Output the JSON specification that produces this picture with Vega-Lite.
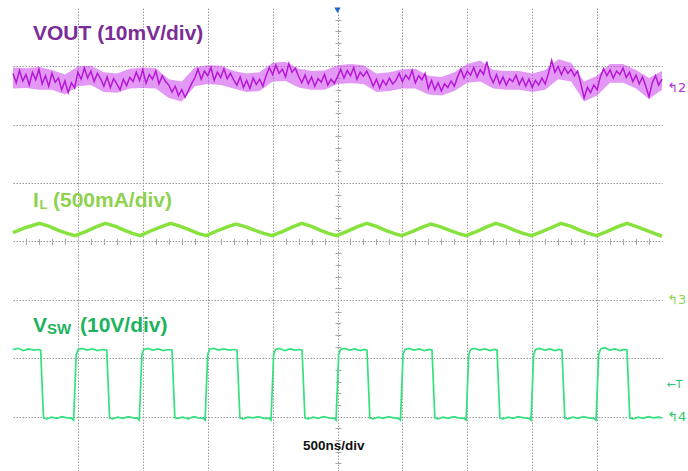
{
  "$schema": "https://vega.github.io/schema/vega-lite/v6.json",
  "width": 649,
  "height": 463,
  "autosize": {"type": "none"},
  "padding": {"left": 13, "top": 8, "right": 26, "bottom": 0},
  "background": "white",
  "config": {"view": {"stroke": null}, "text": {"font": "Liberation Sans", "fontWeight": "bold"}},
  "datasets": {
    "vout": [
      {"t":0,"v":6.88},{"t":25,"v":6.72},{"t":50,"v":6.93},{"t":75,"v":6.75},{"t":100,"v":6.86},{"t":125,"v":6.68},{"t":150,"v":6.90},{"t":175,"v":6.77},{"t":200,"v":6.95},{"t":225,"v":6.70},
      {"t":250,"v":6.84},{"t":275,"v":6.66},{"t":300,"v":6.88},{"t":325,"v":6.73},{"t":350,"v":6.80},{"t":375,"v":6.60},{"t":400,"v":6.75},{"t":425,"v":6.55},{"t":450,"v":6.72},{"t":475,"v":6.63},
      {"t":500,"v":6.90},{"t":525,"v":6.78},{"t":550,"v":6.97},{"t":575,"v":6.80},{"t":600,"v":6.92},{"t":625,"v":6.74},{"t":650,"v":6.88},{"t":675,"v":6.79},{"t":700,"v":6.66},{"t":725,"v":6.82},
      {"t":750,"v":6.64},{"t":775,"v":6.79},{"t":800,"v":6.70},{"t":825,"v":6.60},{"t":850,"v":6.78},{"t":875,"v":6.67},{"t":900,"v":6.81},{"t":925,"v":6.74},{"t":950,"v":6.90},{"t":975,"v":6.76},
      {"t":1000,"v":6.94},{"t":1025,"v":6.71},{"t":1050,"v":6.86},{"t":1075,"v":6.78},{"t":1100,"v":6.92},{"t":1125,"v":6.70},{"t":1150,"v":6.84},{"t":1175,"v":6.74},{"t":1200,"v":6.68},{"t":1225,"v":6.56},
      {"t":1250,"v":6.66},{"t":1275,"v":6.50},{"t":1300,"v":6.60},{"t":1325,"v":6.47},{"t":1350,"v":6.58},{"t":1375,"v":6.70},{"t":1400,"v":6.80},{"t":1425,"v":6.95},{"t":1450,"v":6.78},{"t":1475,"v":6.92},
      {"t":1500,"v":6.84},{"t":1525,"v":6.98},{"t":1550,"v":6.76},{"t":1575,"v":6.90},{"t":1600,"v":6.81},{"t":1625,"v":6.96},{"t":1650,"v":6.79},{"t":1675,"v":6.88},{"t":1700,"v":6.77},{"t":1725,"v":6.68},
      {"t":1750,"v":6.82},{"t":1775,"v":6.64},{"t":1800,"v":6.76},{"t":1825,"v":6.62},{"t":1850,"v":6.80},{"t":1875,"v":6.69},{"t":1900,"v":6.78},{"t":1925,"v":6.66},{"t":1950,"v":6.84},{"t":1975,"v":6.98},
      {"t":2000,"v":6.86},{"t":2025,"v":7.02},{"t":2050,"v":6.88},{"t":2075,"v":6.95},{"t":2100,"v":6.82},{"t":2125,"v":7.05},{"t":2150,"v":6.90},{"t":2175,"v":6.97},{"t":2200,"v":6.83},{"t":2225,"v":6.72},
      {"t":2250,"v":6.85},{"t":2275,"v":6.70},{"t":2300,"v":6.82},{"t":2325,"v":6.66},{"t":2350,"v":6.79},{"t":2375,"v":6.73},{"t":2400,"v":6.86},{"t":2425,"v":6.68},{"t":2450,"v":6.78},{"t":2475,"v":6.71},
      {"t":2500,"v":6.82},{"t":2525,"v":6.95},{"t":2550,"v":6.80},{"t":2575,"v":6.93},{"t":2600,"v":6.84},{"t":2625,"v":6.98},{"t":2650,"v":6.78},{"t":2675,"v":6.90},{"t":2700,"v":6.83},{"t":2725,"v":6.92},
      {"t":2750,"v":6.80},{"t":2775,"v":6.66},{"t":2800,"v":6.78},{"t":2825,"v":6.63},{"t":2850,"v":6.76},{"t":2875,"v":6.68},{"t":2900,"v":6.80},{"t":2925,"v":6.70},{"t":2950,"v":6.76},{"t":2975,"v":6.88},
      {"t":3000,"v":6.74},{"t":3025,"v":6.85},{"t":3050,"v":6.78},{"t":3075,"v":6.93},{"t":3100,"v":6.72},{"t":3125,"v":6.84},{"t":3150,"v":6.77},{"t":3175,"v":6.88},{"t":3200,"v":6.62},{"t":3225,"v":6.76},
      {"t":3250,"v":6.60},{"t":3275,"v":6.72},{"t":3300,"v":6.58},{"t":3325,"v":6.70},{"t":3350,"v":6.64},{"t":3375,"v":6.75},{"t":3400,"v":6.66},{"t":3425,"v":6.82},{"t":3450,"v":6.95},{"t":3475,"v":6.80},
      {"t":3500,"v":6.92},{"t":3525,"v":6.85},{"t":3550,"v":6.98},{"t":3575,"v":6.82},{"t":3600,"v":6.94},{"t":3625,"v":6.86},{"t":3650,"v":7.08},{"t":3675,"v":6.84},{"t":3700,"v":6.72},{"t":3725,"v":6.86},
      {"t":3750,"v":6.70},{"t":3775,"v":6.82},{"t":3800,"v":6.68},{"t":3825,"v":6.79},{"t":3850,"v":6.74},{"t":3875,"v":6.85},{"t":3900,"v":6.69},{"t":3925,"v":6.80},{"t":3950,"v":6.66},{"t":3975,"v":6.78},
      {"t":4000,"v":6.64},{"t":4025,"v":6.76},{"t":4050,"v":6.68},{"t":4075,"v":6.80},{"t":4100,"v":6.70},{"t":4125,"v":6.88},{"t":4150,"v":7.10},{"t":4175,"v":6.90},{"t":4200,"v":7.00},{"t":4225,"v":6.86},
      {"t":4250,"v":6.98},{"t":4275,"v":6.88},{"t":4300,"v":6.95},{"t":4325,"v":6.84},{"t":4350,"v":6.92},{"t":4375,"v":6.70},{"t":4400,"v":6.46},{"t":4425,"v":6.64},{"t":4450,"v":6.55},{"t":4475,"v":6.68},
      {"t":4500,"v":6.60},{"t":4525,"v":6.82},{"t":4550,"v":6.96},{"t":4575,"v":6.84},{"t":4600,"v":6.94},{"t":4625,"v":6.80},{"t":4650,"v":6.92},{"t":4675,"v":6.86},{"t":4700,"v":6.97},{"t":4725,"v":6.81},
      {"t":4750,"v":6.90},{"t":4775,"v":6.74},{"t":4800,"v":6.85},{"t":4825,"v":6.70},{"t":4850,"v":6.82},{"t":4875,"v":6.66},{"t":4900,"v":6.48},{"t":4925,"v":6.72},{"t":4950,"v":6.84},{"t":4975,"v":6.68},
      {"t":5000,"v":6.78}
    ],
    "voutband": [
      {"t":0,"lo":6.62,"hi":6.98},{"t":100,"lo":6.63,"hi":6.97},{"t":200,"lo":6.60,"hi":6.99},{"t":300,"lo":6.60,"hi":6.94},{"t":400,"lo":6.52,"hi":6.86},
      {"t":500,"lo":6.66,"hi":7.00},{"t":600,"lo":6.68,"hi":7.01},{"t":700,"lo":6.56,"hi":6.90},{"t":800,"lo":6.55,"hi":6.88},{"t":900,"lo":6.62,"hi":6.96},
      {"t":1000,"lo":6.63,"hi":6.98},{"t":1100,"lo":6.62,"hi":6.97},{"t":1200,"lo":6.46,"hi":6.78},{"t":1300,"lo":6.40,"hi":6.74},{"t":1400,"lo":6.66,"hi":6.98},
      {"t":1500,"lo":6.70,"hi":7.02},{"t":1600,"lo":6.68,"hi":7.01},{"t":1700,"lo":6.62,"hi":6.92},{"t":1800,"lo":6.56,"hi":6.88},{"t":1900,"lo":6.58,"hi":6.90},
      {"t":2000,"lo":6.74,"hi":7.06},{"t":2100,"lo":6.75,"hi":7.08},{"t":2200,"lo":6.64,"hi":6.96},{"t":2300,"lo":6.60,"hi":6.92},{"t":2400,"lo":6.60,"hi":6.93},
      {"t":2500,"lo":6.70,"hi":7.02},{"t":2600,"lo":6.71,"hi":7.04},{"t":2700,"lo":6.70,"hi":7.02},{"t":2800,"lo":6.56,"hi":6.88},{"t":2900,"lo":6.58,"hi":6.90},
      {"t":3000,"lo":6.62,"hi":6.95},{"t":3100,"lo":6.62,"hi":6.96},{"t":3200,"lo":6.52,"hi":6.84},{"t":3300,"lo":6.50,"hi":6.82},{"t":3400,"lo":6.58,"hi":6.90},
      {"t":3500,"lo":6.72,"hi":7.04},{"t":3600,"lo":6.74,"hi":7.10},{"t":3700,"lo":6.62,"hi":6.94},{"t":3800,"lo":6.60,"hi":6.92},{"t":3900,"lo":6.60,"hi":6.92},
      {"t":4000,"lo":6.56,"hi":6.88},{"t":4100,"lo":6.60,"hi":6.94},{"t":4200,"lo":6.78,"hi":7.12},{"t":4300,"lo":6.74,"hi":7.06},{"t":4400,"lo":6.40,"hi":6.74},
      {"t":4500,"lo":6.50,"hi":6.84},{"t":4600,"lo":6.72,"hi":7.04},{"t":4700,"lo":6.72,"hi":7.04},{"t":4800,"lo":6.62,"hi":6.94},{"t":4900,"lo":6.44,"hi":6.80},
      {"t":5000,"lo":6.60,"hi":6.92}
    ],
    "il": [
      {"t":0,"v":4.15},{"t":100,"v":4.24},{"t":205,"v":4.31},{"t":280,"v":4.26},{"t":350,"v":4.19},{"t":415,"v":4.14},{"t":478,"v":4.10},{"t":560,"v":4.17},{"t":640,"v":4.25},
      {"t":712,"v":4.31},{"t":790,"v":4.26},{"t":860,"v":4.19},{"t":920,"v":4.14},{"t":980,"v":4.10},{"t":1060,"v":4.18},{"t":1140,"v":4.25},
      {"t":1215,"v":4.31},{"t":1290,"v":4.26},{"t":1360,"v":4.20},{"t":1425,"v":4.14},{"t":1488,"v":4.10},{"t":1570,"v":4.18},{"t":1650,"v":4.25},
      {"t":1718,"v":4.30},{"t":1795,"v":4.25},{"t":1865,"v":4.19},{"t":1930,"v":4.14},{"t":1995,"v":4.10},{"t":2075,"v":4.17},{"t":2155,"v":4.25},
      {"t":2224,"v":4.31},{"t":2300,"v":4.26},{"t":2370,"v":4.19},{"t":2430,"v":4.14},{"t":2492,"v":4.10},{"t":2570,"v":4.17},{"t":2650,"v":4.25},
      {"t":2725,"v":4.31},{"t":2800,"v":4.26},{"t":2870,"v":4.19},{"t":2935,"v":4.14},{"t":2994,"v":4.10},{"t":3075,"v":4.17},{"t":3150,"v":4.24},
      {"t":3220,"v":4.30},{"t":3295,"v":4.25},{"t":3365,"v":4.19},{"t":3430,"v":4.14},{"t":3490,"v":4.10},{"t":3570,"v":4.17},{"t":3650,"v":4.25},
      {"t":3720,"v":4.31},{"t":3795,"v":4.26},{"t":3865,"v":4.19},{"t":3930,"v":4.14},{"t":3995,"v":4.10},{"t":4075,"v":4.17},{"t":4150,"v":4.24},
      {"t":4222,"v":4.31},{"t":4300,"v":4.26},{"t":4370,"v":4.19},{"t":4435,"v":4.14},{"t":4495,"v":4.10},{"t":4575,"v":4.17},{"t":4655,"v":4.25},
      {"t":4730,"v":4.31},{"t":4810,"v":4.25},{"t":4880,"v":4.19},{"t":4940,"v":4.14},{"t":5000,"v":4.09}
    ],
    "vsw": [
      {"t":0,"v":2.15},{"t":40,"v":2.17},{"t":80,"v":2.13},{"t":120,"v":2.16},{"t":160,"v":2.14},{"t":195,"v":2.15},{"t":213,"v":2.14},
      {"t":235,"v":0.98},{"t":258,"v":0.96},{"t":298,"v":0.99},{"t":338,"v":0.97},{"t":378,"v":1.00},{"t":418,"v":0.98},{"t":452,"v":0.97},{"t":467,"v":0.94},
      {"t":487,"v":2.06},{"t":502,"v":2.15},{"t":532,"v":2.17},{"t":572,"v":2.14},{"t":612,"v":2.16},{"t":652,"v":2.13},{"t":692,"v":2.15},{"t":722,"v":2.14},
      {"t":744,"v":0.98},{"t":767,"v":0.96},{"t":807,"v":0.99},{"t":847,"v":0.97},{"t":887,"v":1.00},{"t":927,"v":0.98},{"t":958,"v":0.97},{"t":973,"v":0.94},
      {"t":993,"v":2.06},{"t":1008,"v":2.15},{"t":1038,"v":2.17},{"t":1078,"v":2.14},{"t":1118,"v":2.16},{"t":1158,"v":2.13},{"t":1198,"v":2.15},{"t":1225,"v":2.14},
      {"t":1247,"v":0.98},{"t":1270,"v":0.97},{"t":1310,"v":0.99},{"t":1350,"v":0.96},{"t":1390,"v":1.00},{"t":1430,"v":0.98},{"t":1465,"v":0.97},{"t":1480,"v":0.94},
      {"t":1500,"v":2.06},{"t":1515,"v":2.16},{"t":1545,"v":2.17},{"t":1585,"v":2.14},{"t":1625,"v":2.16},{"t":1665,"v":2.14},{"t":1705,"v":2.15},{"t":1726,"v":2.14},
      {"t":1748,"v":0.98},{"t":1771,"v":0.96},{"t":1811,"v":0.99},{"t":1851,"v":0.98},{"t":1891,"v":1.00},{"t":1931,"v":0.97},{"t":1973,"v":0.97},{"t":1988,"v":0.94},
      {"t":2008,"v":2.06},{"t":2023,"v":2.15},{"t":2053,"v":2.17},{"t":2093,"v":2.13},{"t":2133,"v":2.16},{"t":2173,"v":2.14},{"t":2205,"v":2.15},{"t":2227,"v":2.14},
      {"t":2249,"v":0.98},{"t":2272,"v":0.96},{"t":2312,"v":0.99},{"t":2352,"v":0.97},{"t":2392,"v":1.00},{"t":2432,"v":0.98},{"t":2474,"v":0.97},{"t":2489,"v":0.94},
      {"t":2509,"v":2.06},{"t":2524,"v":2.15},{"t":2554,"v":2.17},{"t":2594,"v":2.14},{"t":2634,"v":2.16},{"t":2674,"v":2.13},{"t":2705,"v":2.15},{"t":2727,"v":2.14},
      {"t":2749,"v":0.98},{"t":2772,"v":0.96},{"t":2812,"v":0.99},{"t":2852,"v":0.97},{"t":2892,"v":1.00},{"t":2932,"v":0.98},{"t":2970,"v":0.97},{"t":2985,"v":0.94},
      {"t":3005,"v":2.06},{"t":3020,"v":2.15},{"t":3050,"v":2.17},{"t":3090,"v":2.14},{"t":3130,"v":2.16},{"t":3170,"v":2.13},{"t":3205,"v":2.15},{"t":3228,"v":2.14},
      {"t":3250,"v":0.98},{"t":3273,"v":0.96},{"t":3313,"v":0.99},{"t":3353,"v":0.97},{"t":3393,"v":1.00},{"t":3433,"v":0.98},{"t":3476,"v":0.97},{"t":3491,"v":0.94},
      {"t":3511,"v":2.06},{"t":3526,"v":2.15},{"t":3556,"v":2.17},{"t":3596,"v":2.14},{"t":3636,"v":2.16},{"t":3676,"v":2.13},{"t":3706,"v":2.15},{"t":3729,"v":2.14},
      {"t":3751,"v":0.98},{"t":3774,"v":0.96},{"t":3814,"v":0.99},{"t":3854,"v":0.97},{"t":3894,"v":1.00},{"t":3934,"v":0.98},{"t":3976,"v":0.97},{"t":3991,"v":0.94},
      {"t":4011,"v":2.06},{"t":4026,"v":2.15},{"t":4056,"v":2.17},{"t":4096,"v":2.14},{"t":4136,"v":2.16},{"t":4176,"v":2.13},{"t":4206,"v":2.15},{"t":4229,"v":2.14},
      {"t":4251,"v":0.98},{"t":4274,"v":0.96},{"t":4314,"v":0.99},{"t":4354,"v":0.97},{"t":4394,"v":1.00},{"t":4434,"v":0.98},{"t":4477,"v":0.97},{"t":4492,"v":0.94},
      {"t":4512,"v":2.06},{"t":4527,"v":2.16},{"t":4557,"v":2.18},{"t":4597,"v":2.14},{"t":4637,"v":2.16},{"t":4677,"v":2.13},{"t":4707,"v":2.15},{"t":4730,"v":2.14},
      {"t":4752,"v":0.98},{"t":4775,"v":0.96},{"t":4815,"v":0.99},{"t":4855,"v":0.97},{"t":4895,"v":1.00},{"t":4935,"v":0.98},{"t":4975,"v":0.99},{"t":5000,"v":0.98}
    ]
  },
  "resolve": {"axis": {"x": "independent", "y": "independent"}},
  "layer": [
    {
      "data": {"name": "voutband"},
      "mark": {"type": "area", "color": "#CC44EE", "opacity": 0.55, "interpolate": "linear"},
      "encoding": {
        "x": {"field": "t", "type": "quantitative", "scale": {"domain": [0, 5000], "nice": false, "zero": false},
              "axis": {"orient": "bottom", "values": [500,1000,1500,2000,2500,3000,3500,4000,4500], "grid": true, "gridDash": [1.5,1.5], "gridColor": "#9a9a9a", "gridWidth": 1, "ticks": false, "labels": false, "domain": false, "title": null}},
        "y": {"field": "lo", "type": "quantitative", "scale": {"domain": [0.0685, 8], "nice": false, "zero": false},
              "axis": {"orient": "left", "values": [1,2,3,4,5,6,7], "grid": true, "gridDash": [1.5,1.5], "gridColor": "#9a9a9a", "gridWidth": 1, "ticks": false, "labels": false, "domain": false, "title": null}},
        "y2": {"field": "hi"}
      }
    },
    {
      "data": {"values": [{"t": 2500, "v": 7.96}]},
      "mark": {"type": "point", "shape": "triangle-down", "filled": true, "color": "#1E64D0", "size": 40, "opacity": 1},
      "encoding": {
        "x": {"field": "t", "type": "quantitative",
              "axis": {"orient": "top", "offset": -236.5, "values": [100,200,300,400,600,700,800,900,1100,1200,1300,1400,1600,1700,1800,1900,2100,2200,2300,2400,2600,2700,2800,2900,3100,3200,3300,3400,3600,3700,3800,3900,4100,4200,4300,4400,4600,4700,4800,4900], "tickSize": 6, "tickColor": "#a8a8a8", "ticks": true, "labels": false, "domain": false, "grid": false, "title": null}},
        "y": {"field": "v", "type": "quantitative",
              "axis": {"orient": "right", "offset": -327, "values": [0.2,0.4,0.6,0.8,1.2,1.4,1.6,1.8,2.2,2.4,2.6,2.8,3.2,3.4,3.6,3.8,4.2,4.4,4.6,4.8,5.2,5.4,5.6,5.8,6.2,6.4,6.6,6.8,7.2,7.4,7.6,7.8], "tickSize": 6, "tickColor": "#a8a8a8", "ticks": true, "labels": false, "domain": false, "grid": false, "title": null}}
      }
    },
    {
      "data": {"name": "vout"},
      "mark": {"type": "line", "color": "#B418D6", "strokeWidth": 1.5},
      "encoding": {
        "x": {"field": "t", "type": "quantitative", "axis": null},
        "y": {"field": "v", "type": "quantitative", "axis": null}
      }
    },
    {
      "data": {"name": "il"},
      "mark": {"type": "line", "color": "#88E23E", "strokeWidth": 3.5},
      "encoding": {
        "x": {"field": "t", "type": "quantitative", "axis": null},
        "y": {"field": "v", "type": "quantitative", "axis": null}
      }
    },
    {
      "data": {"name": "vsw"},
      "mark": {"type": "line", "color": "#33E27E", "strokeWidth": 1.7},
      "encoding": {
        "x": {"field": "t", "type": "quantitative", "axis": null},
        "y": {"field": "v", "type": "quantitative", "axis": null}
      }
    },
    {
      "mark": {"type": "rule", "color": "#c4c4c4", "strokeWidth": 2},
      "encoding": {"x": {"datum": 0, "type": "quantitative", "axis": null}}
    },
    {
      "mark": {"type": "rule", "color": "#c4c4c4", "strokeWidth": 2},
      "encoding": {"x": {"datum": 5000, "type": "quantitative", "axis": null}}
    },
    {
      "mark": {"type": "rule", "color": "#c4c4c4", "strokeWidth": 1.5},
      "encoding": {"y": {"datum": 8, "type": "quantitative", "axis": null}}
    },
    {
      "data": {"values": [{"t": 154, "v": 7.45, "label": "VOUT (10mV/div)"}]},
      "mark": {"type": "text", "align": "left", "baseline": "alphabetic", "fontSize": 21, "color": "#7B2C96"},
      "encoding": {"x": {"field": "t", "type": "quantitative", "axis": null}, "y": {"field": "v", "type": "quantitative", "axis": null}, "text": {"field": "label"}}
    },
    {
      "data": {"values": [{"t": 154, "v": 4.59, "label": "I"}, {"t": 308, "v": 4.59, "label": "(500mA/div)"}]},
      "mark": {"type": "text", "align": "left", "baseline": "alphabetic", "fontSize": 21, "color": "#8ED24F"},
      "encoding": {"x": {"field": "t", "type": "quantitative", "axis": null}, "y": {"field": "v", "type": "quantitative", "axis": null}, "text": {"field": "label"}}
    },
    {
      "data": {"values": [{"t": 204, "v": 4.55, "label": "L"}]},
      "mark": {"type": "text", "align": "left", "baseline": "alphabetic", "fontSize": 13, "color": "#8ED24F"},
      "encoding": {"x": {"field": "t", "type": "quantitative", "axis": null}, "y": {"field": "v", "type": "quantitative", "axis": null}, "text": {"field": "label"}}
    },
    {
      "data": {"values": [{"t": 154, "v": 2.45, "label": "V"}, {"t": 516, "v": 2.45, "label": "(10V/div)"}]},
      "mark": {"type": "text", "align": "left", "baseline": "alphabetic", "fontSize": 21, "color": "#1DB35E"},
      "encoding": {"x": {"field": "t", "type": "quantitative", "axis": null}, "y": {"field": "v", "type": "quantitative", "axis": null}, "text": {"field": "label"}}
    },
    {
      "data": {"values": [{"t": 262, "v": 2.42, "label": "SW"}]},
      "mark": {"type": "text", "align": "left", "baseline": "alphabetic", "fontSize": 15, "color": "#1DB35E"},
      "encoding": {"x": {"field": "t", "type": "quantitative", "axis": null}, "y": {"field": "v", "type": "quantitative", "axis": null}, "text": {"field": "label"}}
    },
    {
      "data": {"values": [{"t": 2234, "v": 0.43, "label": "500ns/div"}]},
      "mark": {"type": "text", "align": "left", "baseline": "alphabetic", "fontSize": 13.5, "color": "#111111"},
      "encoding": {"x": {"field": "t", "type": "quantitative", "axis": null}, "y": {"field": "v", "type": "quantitative", "axis": null}, "text": {"field": "label"}}
    },
    {
      "data": {"values": [{"t": 5040, "v": 6.63, "label": "↰2"}]},
      "mark": {"type": "text", "align": "left", "baseline": "middle", "fontSize": 13, "fontWeight": "normal", "font": "DejaVu Sans", "color": "#B030D0"},
      "encoding": {"x": {"field": "t", "type": "quantitative", "axis": null}, "y": {"field": "v", "type": "quantitative", "axis": null}, "text": {"field": "label"}}
    },
    {
      "data": {"values": [{"t": 5040, "v": 3.0, "label": "↰3"}]},
      "mark": {"type": "text", "align": "left", "baseline": "middle", "fontSize": 13, "fontWeight": "normal", "font": "DejaVu Sans", "color": "#8ED24F"},
      "encoding": {"x": {"field": "t", "type": "quantitative", "axis": null}, "y": {"field": "v", "type": "quantitative", "axis": null}, "text": {"field": "label"}}
    },
    {
      "data": {"values": [{"t": 5040, "v": 0.99, "label": "↰4"}]},
      "mark": {"type": "text", "align": "left", "baseline": "middle", "fontSize": 13, "fontWeight": "normal", "font": "DejaVu Sans", "color": "#2BC86E"},
      "encoding": {"x": {"field": "t", "type": "quantitative", "axis": null}, "y": {"field": "v", "type": "quantitative", "axis": null}, "text": {"field": "label"}}
    },
    {
      "data": {"values": [{"t": 5035, "v": 1.54, "label": "←T"}]},
      "mark": {"type": "text", "align": "left", "baseline": "middle", "fontSize": 11, "fontWeight": "normal", "font": "DejaVu Sans", "color": "#2BC86E"},
      "encoding": {"x": {"field": "t", "type": "quantitative", "axis": null}, "y": {"field": "v", "type": "quantitative", "axis": null}, "text": {"field": "label"}}
    }
  ]
}
